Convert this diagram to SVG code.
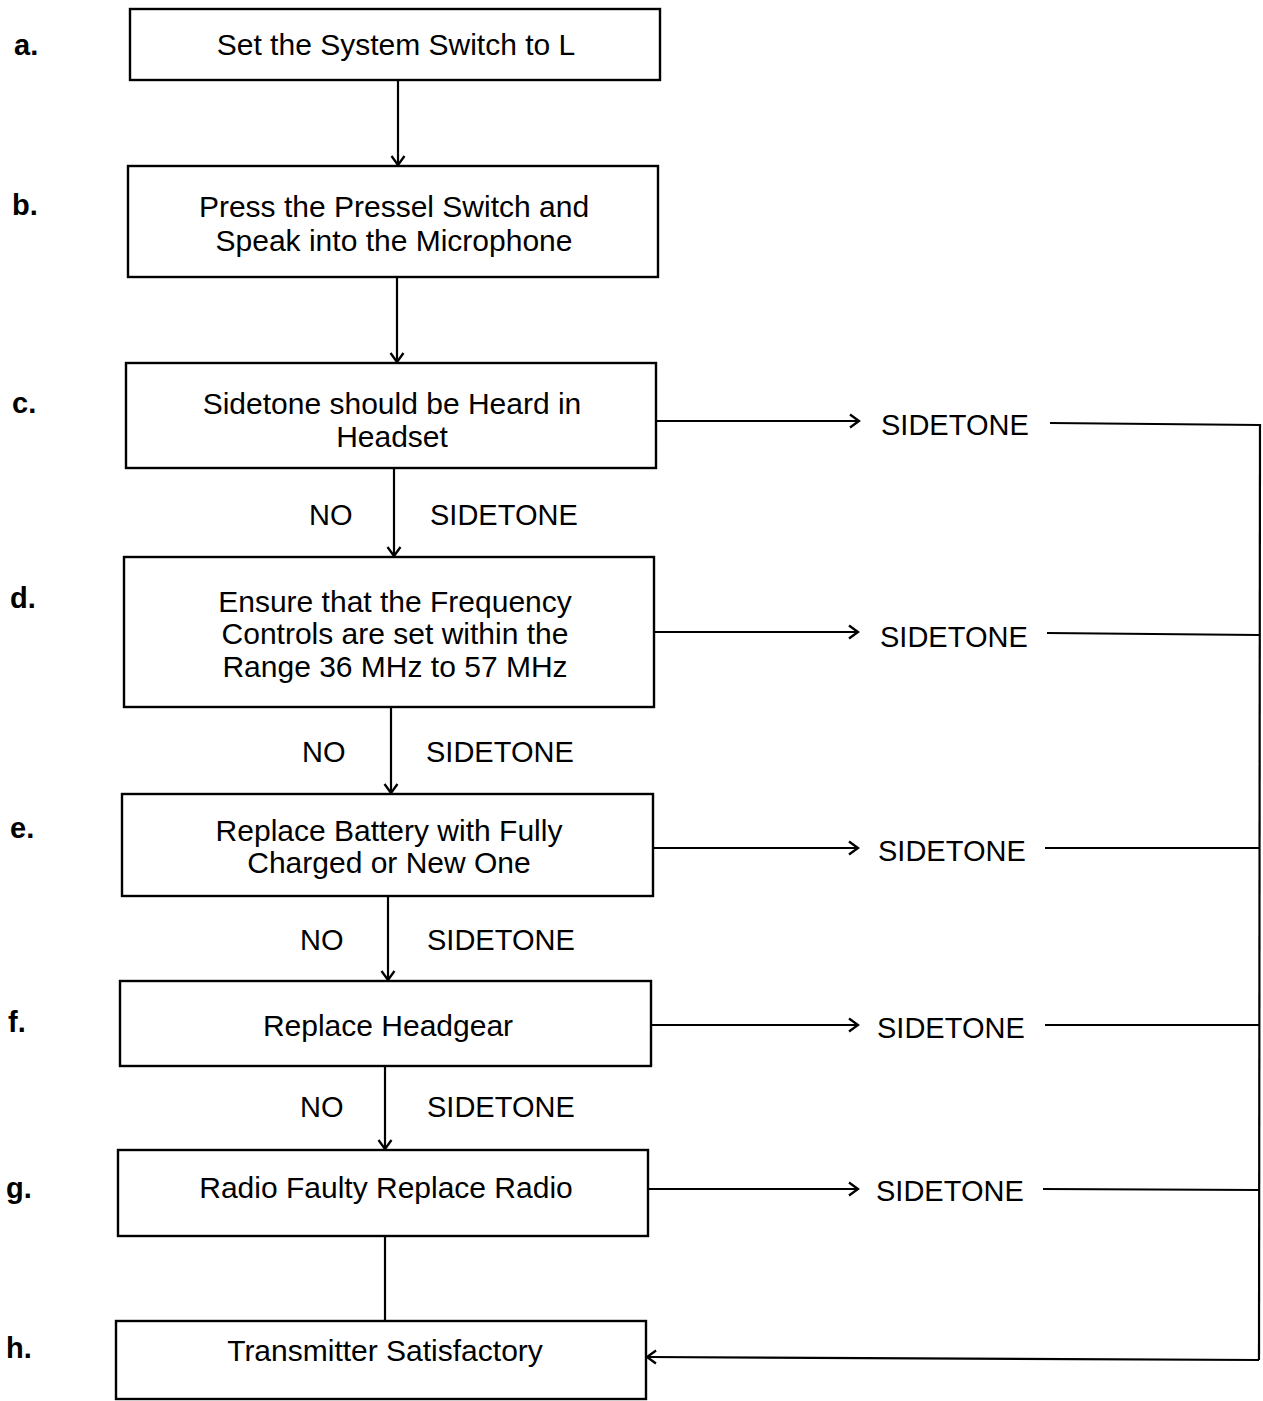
<svg xmlns="http://www.w3.org/2000/svg" width="1263" height="1401" viewBox="0 0 1263 1401">
<style>
.box{fill:#fff;stroke:#000;stroke-width:2.4}
.t{font-family:"Liberation Sans",Arial,sans-serif;font-size:30px;fill:#000;text-anchor:middle}
.l{font-family:"Liberation Sans",Arial,sans-serif;font-size:29px;font-weight:bold;fill:#000}
.s{font-family:"Liberation Sans",Arial,sans-serif;font-size:29px;fill:#000}
.c{fill:none;stroke:#000;stroke-width:2.2}
</style>
<defs>
<marker id="ah" markerWidth="16" markerHeight="16" refX="13" refY="8" orient="auto" markerUnits="userSpaceOnUse">
<path d="M4,1.5 L13,8 L4,14.5" fill="none" stroke="#000" stroke-width="2.3"/>
</marker>
</defs>
<rect width="1263" height="1401" fill="#fff"/>
<g id="labels">
<text class="l" x="14" y="55">a.</text>
<text class="l" x="12" y="215">b.</text>
<text class="l" x="12" y="413">c.</text>
<text class="l" x="10" y="608">d.</text>
<text class="l" x="10" y="838">e.</text>
<text class="l" x="8" y="1032">f.</text>
<text class="l" x="6" y="1198">g.</text>
<text class="l" x="6" y="1358">h.</text>
</g>
<g id="connectors">
<line class="c" x1="398" y1="80" x2="398" y2="165" marker-end="url(#ah)"/>
<line class="c" x1="397" y1="277" x2="397" y2="362" marker-end="url(#ah)"/>
<line class="c" x1="394" y1="468" x2="394" y2="556" marker-end="url(#ah)"/>
<line class="c" x1="391" y1="707" x2="391" y2="793" marker-end="url(#ah)"/>
<line class="c" x1="388" y1="896" x2="388" y2="980" marker-end="url(#ah)"/>
<line class="c" x1="385" y1="1066" x2="385" y2="1149" marker-end="url(#ah)"/>
<line class="c" x1="385" y1="1236" x2="385" y2="1320"/>
<line class="c" x1="656" y1="421" x2="859" y2="421" marker-end="url(#ah)"/>
<line class="c" x1="654" y1="632" x2="858" y2="632" marker-end="url(#ah)"/>
<line class="c" x1="653" y1="848" x2="858" y2="848" marker-end="url(#ah)"/>
<line class="c" x1="651" y1="1025" x2="858" y2="1025" marker-end="url(#ah)"/>
<line class="c" x1="648" y1="1189" x2="858" y2="1189" marker-end="url(#ah)"/>
<line class="c" x1="1050" y1="423" x2="1260" y2="425"/>
<line class="c" x1="1047" y1="633" x2="1259" y2="635"/>
<line class="c" x1="1045" y1="848" x2="1259" y2="848"/>
<line class="c" x1="1045" y1="1025" x2="1259" y2="1025"/>
<line class="c" x1="1043" y1="1189" x2="1259" y2="1190"/>
<line class="c" x1="1260" y1="424" x2="1259" y2="1360"/>
<line class="c" x1="1259" y1="1360" x2="647" y2="1357" marker-end="url(#ah)"/>
<text class="s" x="309" y="525">NO</text>
<text class="s" x="430" y="525">SIDETONE</text>
<text class="s" x="302" y="762">NO</text>
<text class="s" x="426" y="762">SIDETONE</text>
<text class="s" x="300" y="950">NO</text>
<text class="s" x="427" y="950">SIDETONE</text>
<text class="s" x="300" y="1117">NO</text>
<text class="s" x="427" y="1117">SIDETONE</text>
<text class="s" x="881" y="435">SIDETONE</text>
<text class="s" x="880" y="647">SIDETONE</text>
<text class="s" x="878" y="861">SIDETONE</text>
<text class="s" x="877" y="1038">SIDETONE</text>
<text class="s" x="876" y="1201">SIDETONE</text>
</g>
<g id="node-a">
<rect class="box" x="130" y="9" width="530" height="71"/>
<text class="t" x="396" y="55">Set the System Switch to L</text>
</g>
<g id="node-b">
<rect class="box" x="128" y="166" width="530" height="111"/>
<text class="t" x="394" y="217">Press the Pressel Switch and</text>
<text class="t" x="394" y="251">Speak into the Microphone</text>
</g>
<g id="node-c">
<rect class="box" x="126" y="363" width="530" height="105"/>
<text class="t" x="392" y="414">Sidetone should be Heard in</text>
<text class="t" x="392" y="447">Headset</text>
</g>
<g id="node-d">
<rect class="box" x="124" y="557" width="530" height="150"/>
<text class="t" x="395" y="612">Ensure that the Frequency</text>
<text class="t" x="395" y="644">Controls are set within the</text>
<text class="t" x="395" y="677">Range 36 MHz to 57 MHz</text>
</g>
<g id="node-e">
<rect class="box" x="122" y="794" width="531" height="102"/>
<text class="t" x="389" y="841">Replace Battery with Fully</text>
<text class="t" x="389" y="873">Charged or New One</text>
</g>
<g id="node-f">
<rect class="box" x="120" y="981" width="531" height="85"/>
<text class="t" x="388" y="1036">Replace Headgear</text>
</g>
<g id="node-g">
<rect class="box" x="118" y="1150" width="530" height="86"/>
<text class="t" x="386" y="1198">Radio Faulty Replace Radio</text>
</g>
<g id="node-h">
<rect class="box" x="116" y="1321" width="530" height="78"/>
<text class="t" x="385" y="1361">Transmitter Satisfactory</text>
</g>
</svg>
